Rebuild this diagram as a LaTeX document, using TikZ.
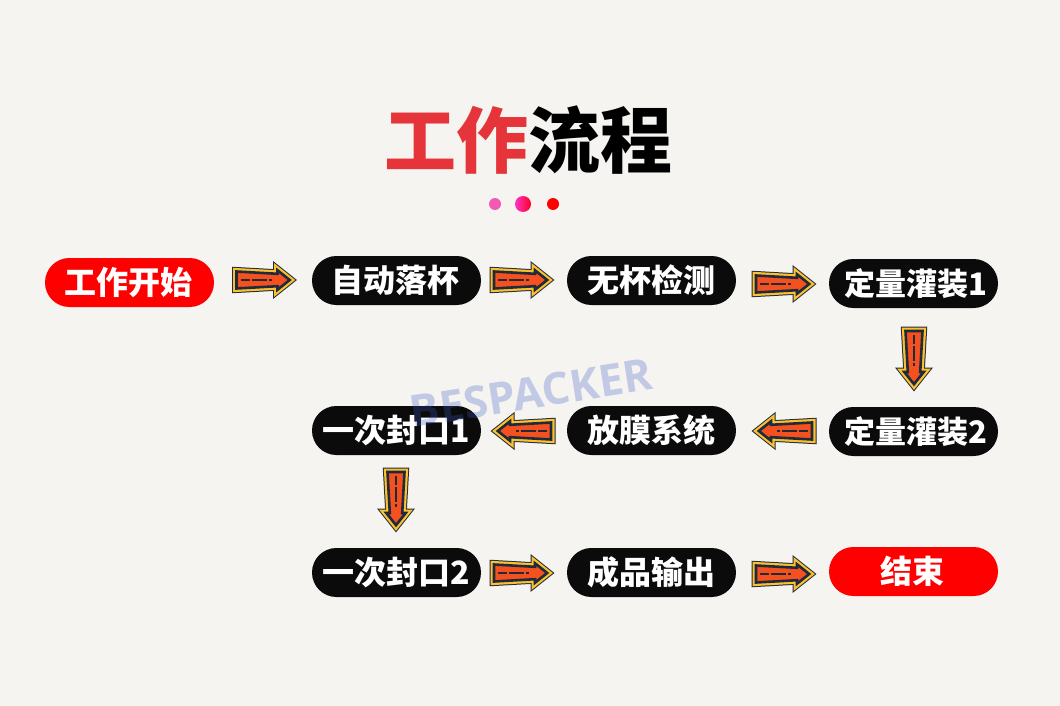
\documentclass[tikz,border=0pt]{standalone}
\usepackage{fontspec}
\setmainfont{Noto Sans CJK SC}[BoldFont={Noto Sans CJK SC Black}]
\newfontfamily\wmfont{Open Sans}
\definecolor{pagebg}{HTML}{F5F4F0}
\definecolor{titlered}{HTML}{E5343A}
\definecolor{pillblack}{HTML}{0B0B0B}
\definecolor{arrowdark}{HTML}{1F2A3C}
\definecolor{arrowyellow}{HTML}{FBC02D}
\definecolor{arroworange}{HTML}{F4511E}
\definecolor{markblue}{HTML}{3C5AC8}
\def\arrowoutline{(-28,-8.5) -- (13,-6.2) -- (13,-9.7) -- (25.2,0) -- (13,9.7) -- (13,6.2) -- (-28,8.5) -- cycle}
\tikzset{
  pill/.style={rounded corners=24.4pt,minimum width=169pt,minimum height=49pt,inner sep=0pt,
    text=white,font=\bfseries\fontsize{32}{32}\selectfont},
  blackpill/.style={pill,fill=pillblack},
  redpill/.style={pill,fill=red},
  dot/.style={circle,inner sep=0pt},
  flowarrow/.pic={
    \draw[arrowdark,line width=9pt,miter limit=10] \arrowoutline;
    \draw[arrowyellow,line width=7pt,miter limit=10] \arrowoutline;
    \draw[arrowdark,line width=2.6pt,miter limit=10,fill=arroworange] \arrowoutline;
    \draw[arrowdark,line width=1.4pt,dash pattern=on 9pt off 2pt on 15pt off 2pt on 3pt off 30pt] (-24,0) -- (9,0);
  }
}
\begin{document}
\begin{tikzpicture}[x=1pt,y=-1pt]
  \fill[pagebg] (0,0) rectangle (1060,706);

  \node (title) at (528,140) {\bfseries\fontsize{72}{72}\selectfont\textcolor{titlered}{工作}流程};
  \node[dot,fill=magenta!65!white,minimum size=12pt] (da) at (495,204) {};
  \node[dot,left color=magenta!70!red!80,right color=red!85!magenta,minimum size=16pt] (db) at (523,204) {};
  \node[dot,fill=red,minimum size=12pt] (dc) at (553,204) {};

  \node[redpill] (na) at (129.5,282.5) {\hspace*{-2pt}工作开始};
  \node[blackpill] (nb) at (396.5,280.5) {\hspace*{-2pt}自动落杯};
  \node[blackpill] (nc) at (651.5,280.5) {无杯检测};
  \node[blackpill,font=\bfseries\fontsize{31}{31}\selectfont] (nd) at (913.5,283.5) {\hspace*{4pt}定量灌装1};
  \node[blackpill,font=\bfseries\fontsize{31}{31}\selectfont] (ne) at (913.5,431.5) {\hspace*{4pt}定量灌装2};
  \node[blackpill] (nf) at (651.5,430.5) {放膜系统};
  \node[blackpill] (ng) at (396.5,430.5) {一次封口1};
  \node[blackpill] (nh) at (396.5,572.5) {一次封口2};
  \node[blackpill] (ni) at (651.5,572.5) {成品输出};
  \node[redpill] (nj) at (913.5,571.5) {\hspace*{-2pt}结束};

  \foreach \x/\y/\ang in {264.5/280/0,522/280/0,784/284/0,914/359/-90,784/431/180,523/431/180,396/500/-90,522/573/0,784/574/0}
    \pic[rotate=\ang] at (\x,\y) {flowarrow};

  \node[rotate=9,text=markblue,opacity=.28,font=\wmfont\bfseries\fontsize{44}{44}\selectfont] (mark) at (531,393) {BESPACKER};
\end{tikzpicture}
\end{document}
